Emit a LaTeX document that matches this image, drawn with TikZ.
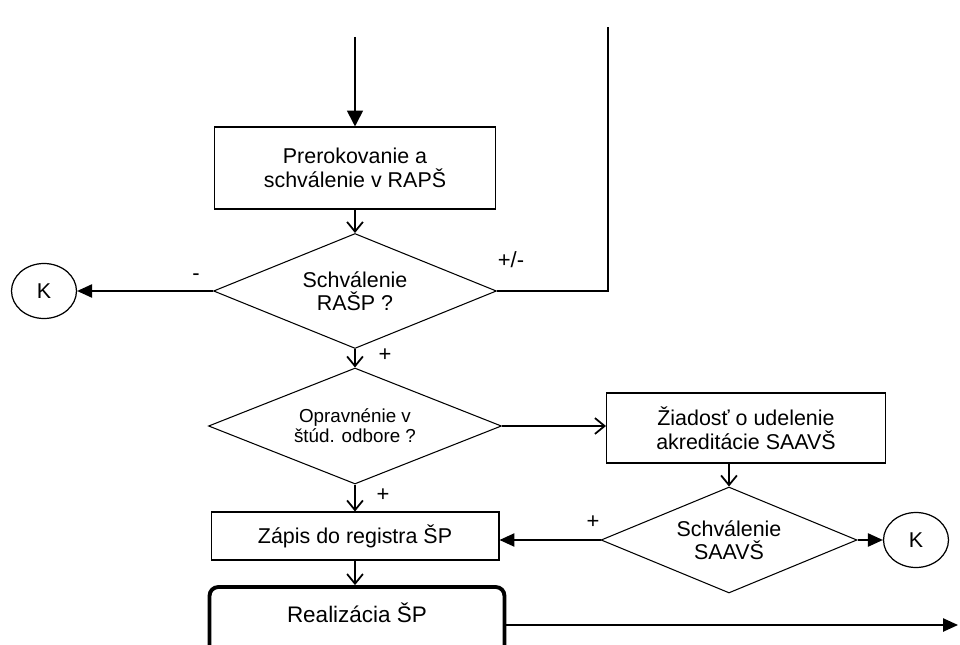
\documentclass[tikz,border=0pt]{standalone}
\usepackage{fontspec}
\setmainfont{Liberation Sans}
\usetikzlibrary{shapes.geometric,arrows.meta,positioning}

\begin{document}
\begin{tikzpicture}[x=0.02cm,y=-0.02cm,
	box/.style={draw,line width=0.6pt,inner sep=0pt,align=center,font=\fontsize{12.2}{13.8}\selectfont},
	dec/.style={diamond,draw,line width=0.6pt,inner sep=0pt,shape aspect=2.5,align=center,font=\fontsize{12.2}{13}\selectfont},
	term/.style={ellipse,draw,line width=0.7pt,minimum width=1.3cm,minimum height=1.1cm,inner sep=0pt,font=\fontsize{12.2}{13}\selectfont},
	lab/.style={inner sep=0pt,font=\fontsize{12.5}{13}\selectfont},
	fl/.style={line width=1pt,-{Triangle[length=8.5pt,width=7.5pt]}},
	op/.style={line width=1pt,-{Straight Barb[length=5.5pt,width=9pt]}}]
\useasboundingbox (0,0) rectangle (960,645);
\coordinate (start) at (355,37);
\coordinate (ret) at (608,27);
\coordinate (out) at (958,625);
% main column
\node[box,minimum width=5.62cm,minimum height=1.64cm] (prerok) at (355,168) {Prerokovanie a\\schválenie v RAPŠ};
\node[dec,minimum width=5.66cm,minimum height=2.3cm] (raps) at (355,291) {Schválenie\\RAŠP ?};
\node[term] (k1) at (44,291) {K};
\node[dec,minimum width=5.86cm,minimum height=2.32cm,font=\fontsize{10.7}{11.5}\selectfont] (oprav) at (355,426) {Opravnénie v\\štúd. odbore ?};
\node[box,minimum width=5.76cm,minimum height=0.96cm] (zapis) at (355,536) {Zápis do registra ŠP};
\node[box,line width=2.2pt,rounded corners=5pt,minimum width=5.9cm,minimum height=1.52cm,
	font=\fontsize{12.8}{14}\selectfont,text height=9pt,text depth=11.4pt] (real) at (357,625) {Realizácia ŠP};
% accreditation branch
\node[box,minimum width=5.58cm,minimum height=1.4cm] (ziad) at (746,428) {Žiadosť o udelenie\\akreditácie SAAVŠ};
\node[dec,minimum width=5.12cm,minimum height=2.12cm] (saav) at (729,540) {Schválenie\\SAAVŠ};
\node[term] (k2) at (916,540) {K};
% connectors
\draw[fl,-{Triangle[length=9pt,width=9pt]}] (start) -- (prerok);
\draw[op] (prerok) -- (raps);
\draw[fl] (raps.west) -- (k1.east);
\draw[line width=1pt] (raps.east) -| (ret);
\draw[op] (raps) -- (oprav);
\draw[op] (oprav.east) -- (oprav.east -| ziad.west);
\draw[op] (saav.north |- ziad.south) -- (saav.north);
\draw[fl] (saav.west) -- (saav.west -| zapis.east);
\draw[fl] (saav.east) -- (k2.west);
\draw[op] (oprav) -- (zapis);
\draw[op] (zapis.south) -- (zapis.south |- real.north);
\draw[fl] (real.east) -- (out);
% labels
\node[lab] (minus) at (196,277) {-};
\node[lab] (pm) at (511,260) {+/-};
\node[lab] (plus1) at (385,355) {+};
\node[lab] (plus2) at (383,495) {+};
\node[lab] (plus3) at (593,522) {+};
\end{tikzpicture}
\end{document}
